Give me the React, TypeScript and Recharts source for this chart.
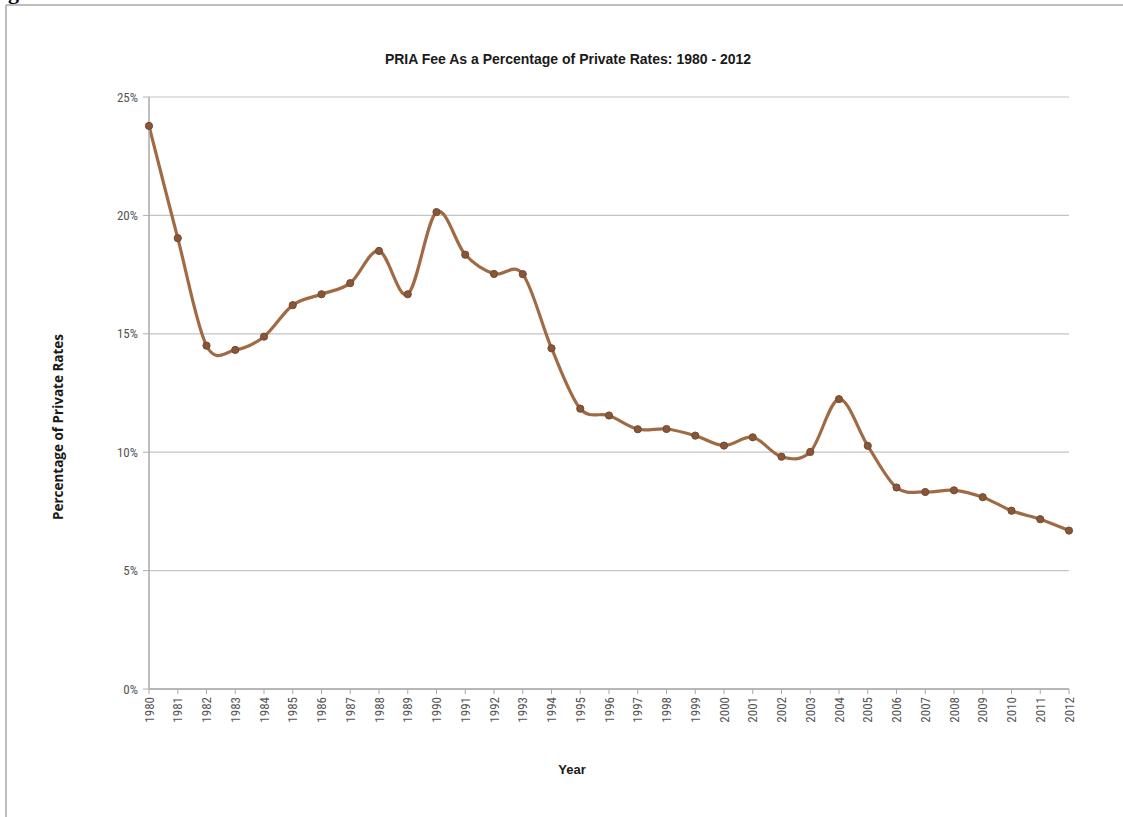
import React from 'react';
import { LineChart, Line, XAxis, YAxis, CartesianGrid } from 'recharts';

const years = [
  '1980', '1981', '1982', '1983', '1984', '1985', '1986', '1987', '1988', '1989', '1990',
  '1991', '1992', '1993', '1994', '1995', '1996', '1997', '1998', '1999', '2000', '2001',
  '2002', '2003', '2004', '2005', '2006', '2007', '2008', '2009', '2010', '2011', '2012',
];

const feePct = [
  23.78, 19.04, 14.5, 14.32, 14.88, 16.21, 16.67, 17.14, 18.5, 16.67, 20.14,
  18.34, 17.53, 17.52, 14.39, 11.84, 11.55, 10.97, 10.98, 10.7, 10.28, 10.63,
  9.81, 10.01, 12.24, 10.27, 8.51, 8.32, 8.39, 8.1, 7.53, 7.17, 6.69,
];

const yTicks = [0, 5, 10, 15, 20, 25];

const data = years.map((year, i) => ({ year, fee: feePct[i] }));

const LINE = '#a06b44';
const MARKER = '#8a5636';
const GRID = '#c4c4c4';
const TICK_TEXT = '#555555';
const NARROW = '"Liberation Sans Narrow", "Arial Narrow", "Roboto Condensed", sans-serif';

// Catmull-Rom style smoothing, close to the spreadsheet "smoothed line" look
const smoothCurve = (context: any) => {
  let pts: number[][] = [];
  return {
    areaStart() {},
    areaEnd() {},
    lineStart() {
      pts = [];
    },
    point(x: number, y: number) {
      pts.push([+x, +y]);
    },
    lineEnd() {
      if (!pts.length) return;
      context.moveTo(pts[0][0], pts[0][1]);
      for (let i = 0; i < pts.length - 1; i++) {
        const p0 = pts[Math.max(i - 1, 0)];
        const p1 = pts[i];
        const p2 = pts[i + 1];
        const p3 = pts[Math.min(i + 2, pts.length - 1)];
        context.bezierCurveTo(
          p1[0] + (p2[0] - p0[0]) / 6,
          p1[1] + (p2[1] - p0[1]) / 6,
          p2[0] - (p3[0] - p1[0]) / 6,
          p2[1] - (p3[1] - p1[1]) / 6,
          p2[0],
          p2[1]
        );
      }
    },
  };
};

const YearTick = (props: any) => {
  const { x, y, payload } = props;
  return (
    <text
      x={x}
      y={y + 1}
      transform={`rotate(-90, ${x}, ${y + 1})`}
      textAnchor="end"
      dominantBaseline="central"
      fill={TICK_TEXT}
      fontSize={13}
      fontFamily={NARROW}
    >
      {payload.value}
    </text>
  );
};

export default function App() {
  return (
    <div style={{ position: 'absolute', left: 0, top: 0, width: 1123, height: 817, background: '#fff', overflow: 'hidden' }}>
      <svg width={1123} height={817} style={{ position: 'absolute', left: 0, top: 0 }}>
        <text x={8} y={-1} fontFamily='"Liberation Serif", serif' fontWeight="bold" fontSize={22} fill="#000">
          g
        </text>
        <line x1={6} y1={5} x2={1123} y2={5} stroke="#a8a8a8" strokeWidth={1.5} />
        <line x1={6} y1={5} x2={6} y2={817} stroke="#a8a8a8" strokeWidth={1.5} />
        <text
          x={568}
          y={64}
          textAnchor="middle"
          fontFamily='"Liberation Sans", Arial, sans-serif'
          fontWeight="bold"
          fontSize={14}
          fill="#1a1a1a"
        >
          PRIA Fee As a Percentage of Private Rates: 1980 - 2012
        </text>
        <text
          x={63}
          y={427}
          transform="rotate(-90, 63, 427)"
          textAnchor="middle"
          fontFamily='"Open Sans", sans-serif'
          fontWeight="bold"
          fontSize={13.5}
          fill="#1a1a1a"
        >
          Percentage of Private Rates
        </text>
        <text
          x={572}
          y={774}
          textAnchor="middle"
          fontFamily='"Liberation Sans", Arial, sans-serif'
          fontWeight="bold"
          fontSize={13}
          fill="#1a1a1a"
        >
          Year
        </text>
      </svg>
      <div style={{ position: 'absolute', left: 0, top: 0 }}>
        <LineChart
          width={1123}
          height={817}
          data={data}
          margin={{ top: 97, right: 54, bottom: 88, left: 89 }}
        >
          <CartesianGrid horizontal vertical={false} stroke={GRID} strokeWidth={1.2} />
          <XAxis
            dataKey="year"
            interval={0}
            height={40}
            tick={<YearTick />}
            tickSize={5}
            axisLine={{ stroke: '#a8a8a8', strokeWidth: 1.5 }}
            tickLine={{ stroke: '#a8a8a8' }}
          />
          <YAxis
            width={60}
            domain={[0, 25]}
            ticks={yTicks}
            interval={0}
            tickFormatter={(v: number) => `${v}%`}
            tickSize={6}
            tickMargin={5}
            axisLine={{ stroke: '#a8a8a8', strokeWidth: 1.5 }}
            tickLine={{ stroke: '#b0b0b0' }}
            tick={{ fill: TICK_TEXT, fontSize: 13, fontFamily: NARROW }}
          />
          <Line
            dataKey="fee"
            type={smoothCurve as any}
            stroke={LINE}
            strokeWidth={3.2}
            dot={{ r: 3.6, fill: MARKER, stroke: '#6e4a34', strokeWidth: 1 }}
            activeDot={false}
            isAnimationActive={false}
          />
        </LineChart>
      </div>
    </div>
  );
}
